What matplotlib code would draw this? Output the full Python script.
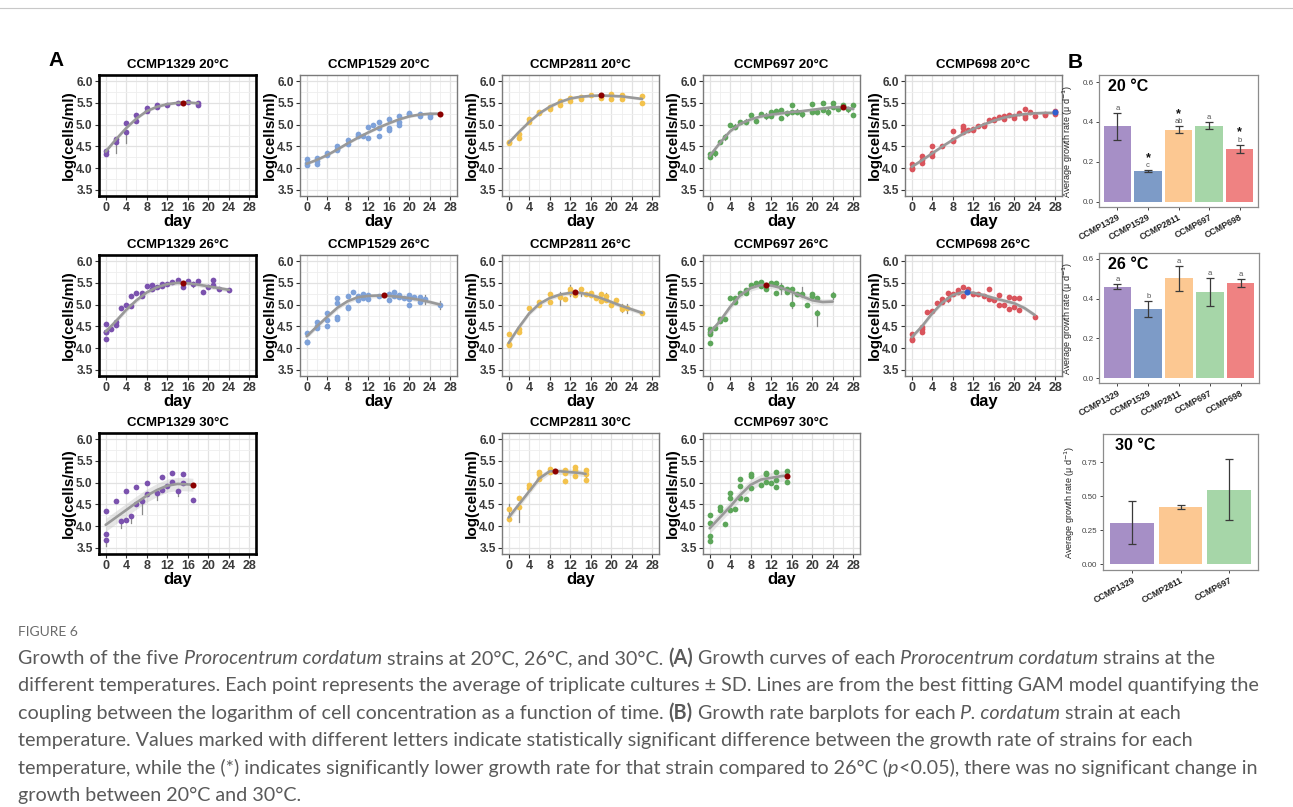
import matplotlib
matplotlib.use("Agg")
import matplotlib.pyplot as plt
import numpy as np
from matplotlib.ticker import MultipleLocator

# ---------------- DATA ----------------
strains = ["CCMP1329", "CCMP1529", "CCMP2811", "CCMP697", "CCMP698"]

# growth curves: days, log(cells/ml), fitted GAM curve, peak point
d_1329_20 = [0,0,2,2,4,4,6,6,8,8,10,10,12,14,16,18,18]
v_1329_20 = [4.40,4.33,4.68,4.60,5.04,4.84,5.23,5.08,5.38,5.32,5.46,5.40,5.46,5.50,5.53,5.49,5.45]
fx_1329_20 = [0,2,4,6,8,10,12,14,16,18]
fy_1329_20 = [4.38,4.66,4.92,5.14,5.31,5.41,5.47,5.50,5.51,5.49]
pk_1329_20 = (15, 5.50)
er_1329_20 = [(2,4.35,4.62),(4,4.58,4.84)]

d_1529_20 = [0,0,0,2,2,2,4,4,6,6,6,8,8,10,10,11,12,12,13,14,14,14,16,16,16,18,18,18,20,20,22,22,24,24]
v_1529_20 = [4.20,4.12,4.07,4.23,4.17,4.10,4.35,4.30,4.52,4.45,4.42,4.65,4.55,4.79,4.73,4.73,4.95,4.70,4.98,5.05,4.92,4.75,5.14,4.92,4.88,5.20,5.05,4.99,5.27,5.25,5.25,5.20,5.22,5.17]
fx_1529_20 = [0,2,4,6,8,10,12,14,16,18,20,22,24,26]
fy_1529_20 = [4.10,4.19,4.30,4.43,4.57,4.70,4.82,4.93,5.03,5.12,5.19,5.23,5.25,5.25]
pk_1529_20 = (26, 5.24)
er_1529_20 = []

d_2811_20 = [0,0,2,2,4,4,6,6,8,8,10,10,12,12,14,14,16,18,20,20,22,22,26,26]
v_2811_20 = [4.60,4.57,4.78,4.70,5.12,5.07,5.29,5.27,5.40,5.36,5.54,5.46,5.62,5.55,5.64,5.60,5.68,5.62,5.70,5.60,5.69,5.58,5.66,5.50]
fx_2811_20 = [0,2,4,6,8,10,12,14,16,18,20,22,24,26]
fy_2811_20 = [4.58,4.83,5.06,5.26,5.41,5.52,5.60,5.64,5.66,5.67,5.66,5.65,5.62,5.59]
pk_2811_20 = (18, 5.67)
er_2811_20 = []

d_697_20 = [0,0,1,2,3,4,5,6,7,8,9,10,11,12,12,13,14,14,15,16,16,17,18,20,20,21,22,22,23,24,24,25,26,27,28,28]
v_697_20 = [4.32,4.25,4.35,4.61,4.72,4.98,4.95,5.05,5.07,5.23,5.09,5.24,5.20,5.28,5.20,5.31,5.34,5.16,5.26,5.46,5.30,5.30,5.24,5.47,5.29,5.30,5.49,5.33,5.30,5.50,5.40,5.37,5.46,5.35,5.45,5.23]
fx_697_20 = [0,2,4,6,8,10,12,14,16,18,20,22,24,26,28]
fy_697_20 = [4.28,4.58,4.85,5.02,5.12,5.19,5.23,5.26,5.29,5.31,5.34,5.37,5.40,5.40,5.36]
pk_697_20 = (26, 5.40)
er_697_20 = [(1,4.29,4.41),(3,4.65,4.79),(5,4.89,5.01),(7,5.01,5.13),(9,5.03,5.15),(11,5.14,5.26),
             (13,5.25,5.37),(15,5.20,5.32),(17,5.24,5.36),(18,5.18,5.30),(21,5.24,5.36),(23,5.23,5.37),
             (25,5.31,5.43),(27,5.29,5.41)]

d_698_20 = [0,0,0,2,2,2,4,4,4,6,8,8,8,10,10,10,11,12,12,13,14,14,15,16,16,17,18,18,19,20,20,21,22,22,22,23,24,26,26,28,28,28]
v_698_20 = [4.10,4.00,3.97,4.28,4.18,4.12,4.52,4.35,4.28,4.51,4.85,4.65,4.62,4.97,4.92,4.82,4.88,4.90,4.87,4.97,4.98,4.96,5.10,5.13,5.10,5.17,5.20,5.14,5.21,5.20,5.16,5.27,5.36,5.20,5.16,5.30,5.20,5.25,5.22,5.32,5.28,5.24]
fx_698_20 = [0,2,4,6,8,10,12,14,16,18,20,22,24,26,28]
fy_698_20 = [4.03,4.18,4.34,4.50,4.65,4.79,4.90,5.00,5.09,5.16,5.21,5.24,5.26,5.27,5.27]
pk_698_20 = (28, 5.28)
er_698_20 = []

d_1329_26 = [0,0,0,0,1,2,2,3,4,5,5,6,7,7,8,9,9,10,11,11,12,13,14,15,16,17,18,19,20,21,21,22,24]
v_1329_26 = [4.55,4.38,4.37,4.21,4.43,4.53,4.60,4.92,4.98,5.19,4.96,5.27,5.26,5.20,5.43,5.45,5.37,5.40,5.48,5.42,5.48,5.52,5.57,5.40,5.55,5.47,5.55,5.29,5.40,5.56,5.45,5.37,5.33]
fx_1329_26 = [0,2,4,6,8,10,12,14,16,18,20,22,24]
fy_1329_26 = [4.38,4.62,4.88,5.10,5.28,5.40,5.47,5.50,5.49,5.46,5.42,5.38,5.34]
pk_1329_26 = (15, 5.49)
er_1329_26 = [(17,5.40,5.52),(21,5.40,5.58)]

d_1529_26 = [0,0,0,2,2,2,4,4,4,6,6,6,6,8,8,8,9,10,10,11,11,12,12,14,16,16,17,17,18,18,19,20,20,20,21,22,22,23,26]
v_1529_26 = [4.35,4.14,4.13,4.60,4.50,4.46,4.81,4.65,4.52,5.16,5.03,4.72,4.67,5.20,4.94,4.92,5.28,5.20,5.10,5.25,5.16,5.22,5.13,5.20,5.10,5.25,5.30,5.20,5.21,5.17,5.15,5.23,5.00,5.12,5.18,5.18,5.07,5.12,5.00]
fx_1529_26 = [0,2,4,6,8,10,12,14,16,18,20,22,24,26]
fy_1529_26 = [4.27,4.50,4.72,4.93,5.08,5.17,5.20,5.21,5.20,5.18,5.15,5.11,5.06,5.00]
pk_1529_26 = (15, 5.21)
er_1529_26 = [(23,5.02,5.22),(26,4.90,5.08)]

d_2811_26 = [0,0,0,2,2,4,6,6,8,8,10,11,12,12,13,14,15,16,16,17,18,18,19,19,20,21,22,22,23,26]
v_2811_26 = [4.33,4.10,4.08,4.45,4.37,4.93,5.06,4.99,5.24,5.05,5.18,5.12,5.36,5.28,5.22,5.36,5.25,5.27,5.22,5.15,5.08,5.24,5.20,5.10,5.00,5.10,4.95,4.90,4.92,4.81]
fx_2811_26 = [0,2,4,6,8,10,12,14,16,18,20,22,24,26]
fy_2811_26 = [4.12,4.48,4.80,5.02,5.15,5.23,5.27,5.27,5.22,5.15,5.06,4.97,4.89,4.81]
pk_2811_26 = (13, 5.28)
er_2811_26 = [(10,4.98,5.30),(12,5.20,5.45),(14,5.20,5.38),(19,5.10,5.27),(22,4.84,5.02),(23,4.80,5.02)]

d_697_26 = [0,0,0,0,1,2,2,3,4,5,5,6,7,7,8,9,10,10,11,12,13,13,14,15,15,16,16,17,18,19,20,20,21,21,24]
v_697_26 = [4.43,4.38,4.33,4.12,4.47,4.68,4.63,4.66,5.16,5.16,5.05,5.27,5.34,5.26,5.45,5.50,5.53,5.43,5.37,5.50,5.50,5.27,5.40,5.37,5.30,5.35,5.01,5.25,5.25,5.00,5.25,5.20,5.15,4.81,5.21]
fx_697_26 = [0,2,4,6,8,10,12,14,16,18,20,22,24]
fy_697_26 = [4.35,4.62,4.95,5.22,5.38,5.45,5.44,5.38,5.29,5.19,5.10,5.06,5.07]
pk_697_26 = (11, 5.45)
er_697_26 = [(14,5.25,5.50),(16,4.93,5.38),(18,5.18,5.40),(21,4.50,4.88),(24,5.13,5.30)]

d_698_26 = [0,0,0,2,2,2,3,4,5,6,6,7,7,8,9,9,10,10,11,12,13,14,15,15,16,17,17,18,19,19,20,20,21,21,24]
v_698_26 = [4.32,4.20,4.18,4.48,4.43,4.38,4.82,4.85,5.04,5.13,5.05,5.27,5.13,5.25,5.33,5.30,5.40,5.20,5.37,5.25,5.25,5.20,5.37,5.12,5.10,5.21,5.00,5.00,5.18,4.90,5.16,4.95,5.16,4.88,4.71]
fx_698_26 = [0,2,4,6,8,10,12,14,16,18,20,22,24]
fy_698_26 = [4.25,4.50,4.80,5.05,5.22,5.29,5.27,5.22,5.15,5.09,5.03,4.92,4.76]
pk_698_26 = (10.8, 5.29)
er_698_26 = [(7,5.05,5.20)]

d_1329_30 = [0,0,0,2,3,4,4,5,6,6,7,8,8,10,11,11,12,13,13,14,15,15,17]
v_1329_30 = [4.35,3.82,3.69,4.58,4.12,4.80,4.15,4.23,4.90,4.52,4.57,4.99,4.73,4.75,5.12,4.83,4.92,5.21,5.02,4.81,5.20,5.00,4.60]
fx_1329_30 = [0,2,4,6,8,10,12,14,16,17]
fy_1329_30 = [4.03,4.20,4.37,4.54,4.70,4.83,4.93,4.97,4.96,4.95]
pk_1329_30 = (17, 4.95)
er_1329_30 = [(0,3.55,3.69),(3,3.95,4.12),(5,4.08,4.23),(7,4.28,4.57),(10,4.60,4.75),(14,4.70,4.81)]

d_2811_30 = [0,0,2,2,4,4,6,6,6,8,8,11,11,11,13,13,13,15,15,15]
v_2811_30 = [4.40,4.17,4.65,4.43,4.95,4.88,5.25,5.20,5.08,5.32,5.25,5.30,5.22,5.03,5.35,5.28,5.15,5.28,5.20,5.05]
fx_2811_30 = [0,2,4,6,8,10,12,14,15]
fy_2811_30 = [4.20,4.50,4.80,5.10,5.26,5.26,5.24,5.22,5.20]
pk_2811_30 = (9, 5.27)
er_2811_30 = [(0,4.12,4.52),(2,4.10,4.43),(11,4.98,5.08),(15,5.02,5.30)]

d_697_30 = [0,0,0,0,2,2,3,4,4,4,5,6,6,6,7,8,8,8,10,11,11,11,12,13,13,13,15,15]
v_697_30 = [4.25,4.08,3.77,3.65,4.45,4.38,4.05,4.76,4.65,4.38,4.40,5.08,4.92,4.65,4.62,5.20,5.15,4.87,4.95,5.22,5.20,5.02,4.98,5.25,5.05,4.90,5.26,5.02]
fx_697_30 = [0,2,4,6,8,10,12,14,15]
fy_697_30 = [3.95,4.20,4.45,4.72,4.95,5.07,5.11,5.15,5.16]
pk_697_30 = (15, 5.16)
er_697_30 = []

# growth-rate barplots (mean, lower, upper)
rate20 = [0.38, 0.155, 0.36, 0.38, 0.265]
lo20 = [0.31, 0.152, 0.345, 0.363, 0.245]
hi20 = [0.445, 0.158, 0.378, 0.398, 0.285]
letters20 = ["a", "c", "ab", "a", "b"]
stars20 = [False, True, True, False, True]

rate26 = [0.46, 0.35, 0.502, 0.435, 0.48]
lo26 = [0.448, 0.31, 0.44, 0.362, 0.46]
hi26 = [0.472, 0.388, 0.565, 0.506, 0.50]
letters26 = ["a", "b", "a", "a", "a"]

strains30 = ["CCMP1329", "CCMP2811", "CCMP697"]
rate30 = [0.305, 0.42, 0.545]
lo30 = [0.15, 0.408, 0.32]
hi30 = [0.462, 0.432, 0.77]

# ---------------- STYLE ----------------
W, H = 1293, 807
fig = plt.figure(figsize=(W / 100, H / 100), dpi=100)
PF = "Liberation Sans"
plt.rcParams["font.family"] = [PF, "DejaVu Sans"]

pt_col = {"CCMP1329": "#7B52AE", "CCMP1529": "#7FA2D9", "CCMP2811": "#F3C24C",
          "CCMP697": "#5DA65A", "CCMP698": "#D9545C"}
bar_col = {"CCMP1329": "#A68FC6", "CCMP1529": "#7D9BC7", "CCMP2811": "#FCC892",
           "CCMP697": "#A6D6A8", "CCMP698": "#EF8282"}


def rect(l, t, r, b):
    return [l / W, 1 - b / H, (r - l) / W, (b - t) / H]


col_left = [99, 300, 502, 703, 905]
row_tb = [(75, 196), (255, 376), (433, 554)]
AW = 157

panels = [
    ("CCMP1329", "20", 0, 0, d_1329_20, v_1329_20, fx_1329_20, fy_1329_20, pk_1329_20, er_1329_20, 0.03),
    ("CCMP1529", "20", 0, 1, d_1529_20, v_1529_20, fx_1529_20, fy_1529_20, pk_1529_20, er_1529_20, 0.03),
    ("CCMP2811", "20", 0, 2, d_2811_20, v_2811_20, fx_2811_20, fy_2811_20, pk_2811_20, er_2811_20, 0.03),
    ("CCMP697", "20", 0, 3, d_697_20, v_697_20, fx_697_20, fy_697_20, pk_697_20, er_697_20, 0.04),
    ("CCMP698", "20", 0, 4, d_698_20, v_698_20, fx_698_20, fy_698_20, pk_698_20, er_698_20, 0.03),
    ("CCMP1329", "26", 1, 0, d_1329_26, v_1329_26, fx_1329_26, fy_1329_26, pk_1329_26, er_1329_26, 0.05),
    ("CCMP1529", "26", 1, 1, d_1529_26, v_1529_26, fx_1529_26, fy_1529_26, pk_1529_26, er_1529_26, 0.05),
    ("CCMP2811", "26", 1, 2, d_2811_26, v_2811_26, fx_2811_26, fy_2811_26, pk_2811_26, er_2811_26, 0.05),
    ("CCMP697", "26", 1, 3, d_697_26, v_697_26, fx_697_26, fy_697_26, pk_697_26, er_697_26, 0.07),
    ("CCMP698", "26", 1, 4, d_698_26, v_698_26, fx_698_26, fy_698_26, pk_698_26, er_698_26, 0.05),
    ("CCMP1329", "30", 2, 0, d_1329_30, v_1329_30, fx_1329_30, fy_1329_30, pk_1329_30, er_1329_30, 0.15),
    ("CCMP2811", "30", 2, 2, d_2811_30, v_2811_30, fx_2811_30, fy_2811_30, pk_2811_30, er_2811_30, 0.07),
    ("CCMP697", "30", 2, 3, d_697_30, v_697_30, fx_697_30, fy_697_30, pk_697_30, er_697_30, 0.12),
]

for (strain, temp, r, c, dd, vv, fx, fy, pk, er, band) in panels:
    t, b = row_tb[r]
    l = col_left[c]
    ax = fig.add_axes(rect(l, t, l + AW, b))
    ax.set_xlim(-1.3, 29.3)
    ax.set_ylim(3.36, 6.14)
    ax.xaxis.set_minor_locator(MultipleLocator(2))
    ax.yaxis.set_minor_locator(MultipleLocator(0.25))
    xt = list(range(0, 29, 4))
    yt = [3.5, 4.0, 4.5, 5.0, 5.5, 6.0]
    ax.set_xticks(xt)
    ax.set_xticklabels([str(x) for x in xt], fontweight="bold")
    ax.set_yticks(yt)
    ax.set_yticklabels(["%.1f" % y for y in yt], fontweight="bold")
    ax.grid(which="major", color="#E2E2E2", lw=0.9)
    ax.grid(which="minor", color="#EEEEEE", lw=0.6)
    ax.set_axisbelow(True)
    ax.tick_params(which="major", length=3, width=0.8, color="#333333",
                   labelsize=9, labelcolor="#3A3A3A", pad=1.5)
    ax.tick_params(axis="y", labelsize=8.6)
    ax.tick_params(which="minor", length=0)
    fxa = np.array(fx); fya = np.array(fy)
    ax.fill_between(fxa, fya - band, fya + band, color="#C8C8C8", alpha=0.45, lw=0, zorder=2)
    for (ed, elo, ehi) in er:
        ax.plot([ed, ed], [elo, ehi], color="#8A8A8A", lw=0.9, zorder=2.5)
    ax.scatter(dd, vv, s=17, color=pt_col[strain], lw=0, zorder=3)
    ax.plot(fxa, fya, color="#999999", lw=1.9, zorder=4, solid_capstyle="round")
    pkc = "#2F5FCF" if strain == "CCMP698" else "#8B0000"
    ax.scatter([pk[0]], [pk[1]], s=19, color=pkc, lw=0, zorder=5)
    ax.set_title(f"{strain} {temp}°C", fontsize=9.5, fontweight="bold", pad=5)
    ax.set_ylabel("log(cells/ml)", fontsize=11, fontweight="bold", labelpad=0.5)
    ax.set_xlabel("day", fontsize=12, fontweight="bold", labelpad=0)
    for s in ax.spines.values():
        if strain == "CCMP1329":
            s.set_color("black"); s.set_linewidth(1.9)
        else:
            s.set_color("#7A7A7A"); s.set_linewidth(1.0)


def barpanel(box, names, vals, lo, hi, ylim, yticks, yfmt, label, lx, letters=None, stars=None,
             labelpad=5.5):
    ax = fig.add_axes(rect(*box))
    x = np.arange(len(names))
    vals = np.array(vals); lo = np.array(lo); hi = np.array(hi)
    ax.bar(x, vals, width=0.9, color=[bar_col[n] for n in names], zorder=2)
    ax.errorbar(x, vals, yerr=[vals - lo, hi - vals], fmt="none", ecolor="#3A3A3A",
                elinewidth=0.9, capsize=3, capthick=0.9, zorder=3)
    ax.set_xlim(-0.6, len(names) - 0.4)
    ax.set_ylim(*ylim)
    ax.set_yticks(yticks)
    ax.set_yticklabels([yfmt % v for v in yticks])
    ax.set_xticks(x)
    ax.set_xticklabels(names, rotation=28, ha="right", rotation_mode="anchor",
                       fontsize=6.3, fontweight="bold", color="#222222")
    ax.tick_params(axis="y", labelsize=5.8, labelcolor="#444444", length=2.5, width=0.7,
                   color="#444444", pad=1.5)
    ax.tick_params(axis="x", length=2.5, width=0.7, color="#444444", pad=1.5)
    for s in ax.spines.values():
        s.set_color("#8C8C8C"); s.set_linewidth(0.9)
    ax.set_ylabel("Average growth rate (μ d$^{-1}$)", fontsize=6.5, color="#222222",
                  labelpad=labelpad)
    ax.text(lx, 0.915, label, transform=ax.transAxes, fontsize=11.5, fontweight="bold",
            va="center", ha="left")
    span = ylim[1] - ylim[0]
    if letters:
        for i, lt in enumerate(letters):
            ax.text(i, hi[i] + 0.035 * span, lt, ha="center", va="center", fontsize=5.5,
                    color="#555555")
            if stars and stars[i]:
                ax.text(i, hi[i] + 0.095 * span, "*", ha="center", va="center",
                        fontsize=9, fontweight="bold", color="#111111")
    return ax


barpanel((1099, 75, 1258, 207), strains, rate20, lo20, hi20, (-0.025, 0.635),
         [0.0, 0.2, 0.4, 0.6], "%.1f", "20 °C", 0.057, letters20, stars20)
barpanel((1099, 253, 1259, 383), strains, rate26, lo26, hi26, (-0.025, 0.63),
         [0.0, 0.2, 0.4, 0.6], "%.1f", "26 °C", 0.057, letters26)
barpanel((1103, 434, 1258, 570), strains30, rate30, lo30, hi30, (-0.044, 0.956),
         [0.0, 0.25, 0.5, 0.75], "%.2f", "30 °C", 0.077, labelpad=3.5)

# panel letters
fig.text(48 / W, 1 - 60 / H, "A", fontsize=15, fontweight="bold", va="center", ha="left")
fig.text(1068 / W, 1 - 63 / H, "B", fontsize=15, fontweight="bold", va="center", ha="left")

# frame lines
fig.add_artist(plt.Line2D([0, 1], [1 - 8 / H, 1 - 8 / H], color="#C8C8C8", lw=0.8,
                          transform=fig.transFigure))

# ---------------- CAPTION ----------------
renderer = fig.canvas.get_renderer()
CF = "Lato"
cap_col = "#5A5A5A"


def kw_for(style, size):
    kw = dict(fontsize=size, color=cap_col, family=CF)
    if style == "i":
        kw["style"] = "italic"
    if style == "b":
        kw["weight"] = "bold"
    return kw


def run_width(txt, style, size):
    kw = kw_for(style, size)
    t1 = fig.text(0, 0, txt + "I", **kw)
    w1 = t1.get_window_extent(renderer).width
    t1.remove()
    t2 = fig.text(0, 0, "I", **kw)
    w2 = t2.get_window_extent(renderer).width
    t2.remove()
    return w1 - w2


def line_width(runs, size):
    return sum(run_width(t, s, size) for t, s in runs)


def draw_line(runs, x0, ybase, size):
    x = x0
    for txt, style in runs:
        fig.text(x / W, 1 - ybase / H, txt, va="baseline", ha="left", **kw_for(style, size))
        x += run_width(txt, style, size)


cap_lines = [
    [("Growth of the five ", "n"), ("Prorocentrum cordatum", "i"),
     (" strains at 20°C, 26°C, and 30°C. ", "n"), ("(A)", "b"),
     (" Growth curves of each ", "n"), ("Prorocentrum cordatum", "i"), (" strains at the", "n")],
    [("different temperatures. Each point represents the average of triplicate cultures ± SD. "
      "Lines are from the best fitting GAM model quantifying the", "n")],
    [("coupling between the logarithm of cell concentration as a function of time. ", "n"),
     ("(B)", "b"), (" Growth rate barplots for each ", "n"), ("P. cordatum", "i"),
     (" strain at each", "n")],
    [("temperature. Values marked with different letters indicate statistically significant "
      "difference between the growth rate of strains for each", "n")],
    [("temperature, while the (*) indicates significantly lower growth rate for that strain "
      "compared to 26°C (", "n"), ("p", "i"), ("<0.05), there was no significant change in", "n")],
    [("growth between 20°C and 30°C.", "n")],
]

ref = 12.0
w0 = line_width(cap_lines[0], ref)
csize = ref * (1192.0 / w0)
fig.text(18 / W, 1 - 636 / H, "FIGURE 6", fontsize=10, color="#6A6A6A", family=CF,
         va="baseline", ha="left")
for k, runs in enumerate(cap_lines):
    draw_line(runs, 18, 664 + 27.4 * k, csize)

fig.savefig("out.png", dpi=100)
